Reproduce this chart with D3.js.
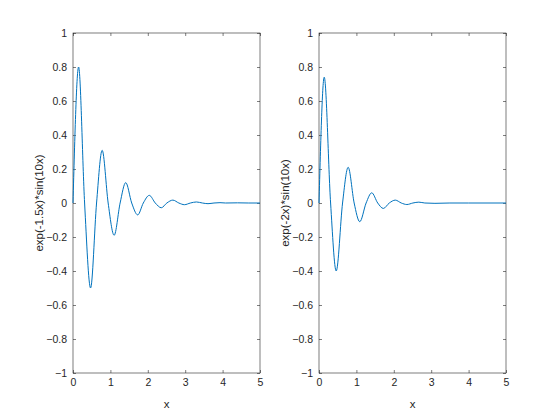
<!DOCTYPE html>
<html><head><meta charset="utf-8">
<script src="https://cdn.jsdelivr.net/npm/d3@7"></script>
<style>body{margin:0;background:#fff}text{font-family:"Liberation Sans",Arial,sans-serif}</style>
</head><body><div id="chart"></div>
<script>
// extrema and zero crossings
const leftX = [0, 0.15, 0.31, 0.47, 0.63, 0.78, 0.94, 1.10, 1.26, 1.41, 1.57, 1.73, 1.88, 2.04, 2.20, 2.36, 2.51, 2.67, 2.83, 2.98, 3.14, 3.30, 3.46, 3.61, 3.77, 3.93, 4.08, 4.4, 4.7, 5];
const leftY = [0, 0.80, 0, -0.50, 0, 0.31, 0, -0.19, 0, 0.12, 0, -0.07, 0, 0.045, 0, -0.028, 0, 0.017, 0, -0.01, 0, 0.006, 0, -0.004, 0, 0.002, 0, 0.001, 0, 0];
const rightX = [0, 0.14, 0.31, 0.46, 0.63, 0.78, 0.94, 1.09, 1.26, 1.41, 1.57, 1.72, 1.88, 2.04, 2.20, 2.35, 2.51, 2.67, 2.83, 3.1, 3.5, 4, 5];
const rightY = [0, 0.74, 0, -0.40, 0, 0.21, 0, -0.11, 0, 0.06, 0, -0.032, 0, 0.017, 0, -0.009, 0, 0.005, 0, -0.002, 0, 0, 0];
const xTicks = [0, 1, 2, 3, 4, 5];
const yTicks = [-1, -0.8, -0.6, -0.4, -0.2, 0, 0.2, 0.4, 0.6, 0.8, 1];
const panels = [
  {left: 73, xs: leftX, ys: leftY, label: "exp(-1.5x)*sin(10x)"},
  {left: 319, xs: rightX, ys: rightY, label: "exp(-2x)*sin(10x)"}
];

const svg = d3.select("#chart").append("svg").attr("width", 560).attr("height", 420);
const plotTop = 33, plotBottom = 373, w = 187;

for (const p of panels) {
  const x = d3.scaleLinear().domain([0, 5]).range([p.left, p.left + w]);
  const y = d3.scaleLinear().domain([-1, 1]).range([plotBottom, plotTop]);
  const g = svg.append("g");
  g.append("rect").attr("x", p.left).attr("y", plotTop).attr("width", w).attr("height", plotBottom - plotTop)
    .attr("fill", "#fff").attr("stroke", "#262626").attr("stroke-width", 0.6);
  const fmt = d => d3.format("")(+d.toFixed(1));
  g.append("g").attr("transform", `translate(0,${plotBottom})`)
    .call(d3.axisBottom(x).tickValues(xTicks).tickSize(-3).tickPadding(6).tickFormat(fmt));
  g.append("g").attr("transform", `translate(0,${plotTop})`)
    .call(d3.axisTop(x).tickValues(xTicks).tickSize(-3).tickFormat(""));
  g.append("g").attr("transform", `translate(${p.left},0)`)
    .call(d3.axisLeft(y).tickValues(yTicks).tickSize(-3).tickPadding(6).tickFormat(fmt));
  g.append("g").attr("transform", `translate(${p.left + w},0)`)
    .call(d3.axisRight(y).tickValues(yTicks).tickSize(-3).tickFormat(""));
  g.selectAll(".domain").remove();
  g.selectAll(".tick line").attr("stroke", "#262626").attr("stroke-width", 0.6);
  g.selectAll(".tick text").attr("fill", "#262626").style("font-size", "10.5px").style("font-family", "Liberation Sans, Arial");
  g.append("text").attr("x", p.left + w / 2).attr("y", 408).attr("text-anchor", "middle")
    .attr("fill", "#262626").style("font-size", "11.5px").text("x");
  g.append("text").attr("transform", `translate(${p.left - 30},${(plotTop + plotBottom) / 2}) rotate(-90)`)
    .attr("text-anchor", "middle").attr("fill", "#262626").style("font-size", "11.5px").text(p.label);
  const line = d3.line().x(d => x(d[0])).y(d => y(d[1])).curve(d3.curveMonotoneX);
  g.append("path").datum(d3.zip(p.xs, p.ys)).attr("d", line)
    .attr("fill", "none").attr("stroke", "#0072BD").attr("stroke-width", 1);
}
</script></body></html>
